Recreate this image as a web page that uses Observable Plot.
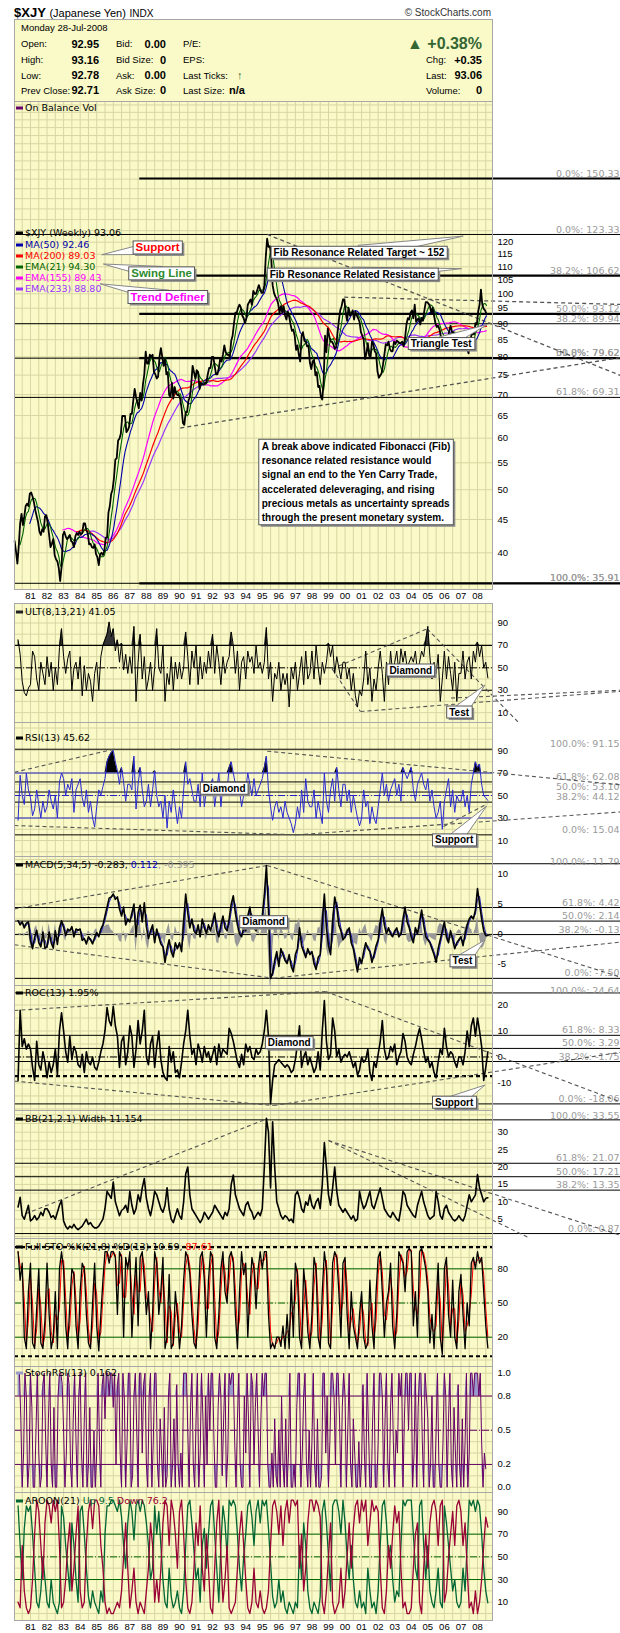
<!DOCTYPE html>
<html><head><meta charset="utf-8">
<script src="https://cdn.jsdelivr.net/npm/d3@7"></script>
<script src="https://cdn.jsdelivr.net/npm/@observablehq/plot@0.6"></script>
<style>
html,body{margin:0;padding:0;background:#fff;}
body{width:620px;height:1633px;position:relative;overflow:hidden;font-family:"Liberation Sans",Arial,sans-serif;color:#000;}
.a{position:absolute;white-space:nowrap;line-height:12px;}
.lab{font-size:9.5px;}
.val{font-size:11px;font-weight:bold;}
#box{position:absolute;left:14px;top:19px;width:477px;height:81px;background:#fafac8;border:1px solid #a8a8a8;border-bottom:none;}
</style></head><body>
<div class="a" style="left:14px;top:5px;font-size:13px;line-height:15px"><b>$XJY</b> <span style="font-size:11px">(Japanese Yen)</span> <span style="font-size:10px">INDX</span></div>
<div class="a" style="right:129px;top:7px;font-size:10px;color:#333">© StockCharts.com</div>
<div id="box"></div>
<script>
// ---------------- DATA ----------------
const quoteDate = "Monday  28-Jul-2008";
const quoteLabels = ["Open:", "High:", "Low:", "Prev Close:"];
const quoteValues = ["92.95", "93.16", "92.78", "92.71"];
const bidLabels = ["Bid:", "Bid Size:", "Ask:", "Ask Size:"];
const bidValues = ["0.00", "0", "0.00", "0"];
const chgPct = "+0.38%", chg = "+0.35", last = "93.06", volume = "0";

// $XJY monthly closes, Jan 1980 .. Jul 2008
const PRICE_START = 1980;
const priceClose = [
41.7,40.2,38.5,41.0,44.4,45.9,44.1,45.5,47.2,47.6,47.2,49.3,
49.5,48.8,47.8,46.5,45.5,44.6,43.1,42.6,43.5,43.1,45.5,45.7,
44.4,42.6,40.8,41.3,42.0,39.7,39.1,38.8,37.9,36.2,38.0,42.6,
43.1,42.4,42.0,42.2,42.6,41.7,41.5,40.8,42.4,42.9,42.6,43.1,
42.7,42.9,44.4,44.4,43.3,42.9,41.2,41.3,40.8,40.7,41.2,39.8,
39.4,38.3,39.8,40.0,39.7,40.2,42.2,42.2,46.1,47.2,49.3,50.0,
52.1,55.6,55.9,59.5,59.9,61.0,64.9,64.9,64.9,61.3,61.7,62.5,
65.4,65.4,68.5,71.4,69.4,68.0,66.7,70.4,68.5,72.5,75.2,81.5,
78.1,78.1,80.6,80.0,80.6,75.8,75.2,74.1,74.6,80.0,82.5,80.0,
77.5,79.4,75.2,75.8,69.9,69.4,73.0,69.0,71.9,70.4,69.9,69.9,
69.0,66.7,63.3,62.9,65.8,65.8,68.5,69.4,72.5,77.5,75.8,74.1,
76.3,75.8,71.4,73.0,72.5,72.5,73.0,73.0,75.2,76.9,76.9,80.0,
80.0,77.5,75.2,75.2,76.9,79.4,78.7,80.6,83.3,81.3,80.6,80.6,
80.0,84.7,86.2,90.1,93.5,93.5,95.2,96.2,95.2,92.6,91.7,90.1,
91.7,96.2,97.1,98.0,96.2,101.0,100.0,100.0,101.5,103.1,101.5,100.3,
100.3,103.1,113.6,121.5,118.0,118.3,113.6,103.1,100.3,99.0,98.2,96.6,
93.5,95.7,93.5,95.7,92.6,91.3,93.9,92.2,89.7,87.7,88.1,86.2,
82.0,83.3,80.6,78.7,86.2,87.3,84.7,84.4,83.0,83.3,78.4,76.6,
78.7,79.1,74.9,75.8,71.9,72.2,69.4,68.8,73.5,86.2,81.3,88.5,
86.2,84.4,84.4,83.7,82.3,82.6,87.0,90.9,94.3,95.7,98.0,98.0,
93.5,90.9,95.2,92.6,93.0,94.3,91.3,93.9,92.6,91.7,90.5,87.3,
86.2,85.1,79.4,81.0,84.0,80.3,80.0,84.4,83.7,81.6,81.0,76.0,
74.3,74.9,75.5,77.8,80.6,83.7,83.3,84.4,82.3,81.6,81.6,84.4,
83.7,84.7,84.4,84.0,84.0,84.4,83.0,85.5,89.7,91.7,91.3,93.5,
94.3,91.7,96.2,90.5,91.3,91.7,89.7,91.7,90.9,94.3,97.1,97.1,
96.6,95.7,93.5,95.2,92.6,90.1,88.9,89.3,88.1,85.8,83.7,84.7,
85.5,86.2,84.7,87.7,89.3,87.3,87.3,85.1,84.7,85.5,86.6,84.0,
82.6,84.4,85.1,83.7,82.3,81.0,84.0,86.2,87.0,86.6,90.1,89.7,
93.9,96.2,101.5,96.2,94.8,94.3,93.1];

// indicator readings, 8 per year from 1980.25
const OSC_START = 1980.25, OSC_STEP = 1/8;
const ult = [
75,62,38,28,25,32,
35,65,60,40,30,55,45,35, 60,42,55,30,50,35,68,85, 60,45,58,65,30,50,55,40, 60,25,52,30,45,38,20,45,
55,30,60,70,75,80,91,78, 85,65,75,55,72,48,62,45, 60,45,87,20,55,80,40,60, 30,40,55,30,50,85,50,45,
70,20,45,35,60,30,55,40, 55,40,50,82,60,35,65,50, 70,35,60,40,55,45,65,50, 80,45,70,55,35,60,45,55,
60,82,70,45,65,30,55,60, 40,65,55,60,45,70,50,55, 45,55,86,40,55,20,45,40, 55,30,45,35,45,15,50,40,
55,30,45,60,35,65,40,45, 65,40,70,50,35,55,45,55, 72,60,70,45,60,50,40,55, 55,40,50,30,45,25,15,30,
25,40,65,35,50,20,40,30, 50,65,45,20,55,35,65,45, 55,65,45,67,55,65,50,55, 60,55,65,45,55,65,60,75,
87,60,40,55,45,62,20,40, 65,40,60,45,30,55,20,45, 45,65,40,55,60,40,65,55,
73,60,70,50,55,41.05];
const rsi = [
28,68,50,42,70,55,
48,32,38,55,42,30,45,35, 40,55,45,38,50,30,62,70, 65,50,60,55,65,35,55,60, 65,48,40,55,35,45,30,22,
40,55,50,58,65,80,85,88, 90,80,72,60,75,62,45,60, 60,55,85,38,60,75,55,40, 45,60,40,55,72,50,40,45,
30,50,21,45,35,55,40,25, 40,30,55,80,60,65,55,45, 45,60,40,70,40,55,50,60, 65,40,55,70,40,60,50,55,
75,80,70,60,50,55,40,50, 55,70,60,50,65,50,55,60, 65,75,85,55,40,28,40,45, 35,40,30,45,35,30,25,17,
25,40,30,55,35,65,45,40, 40,55,30,45,35,25,70,45, 35,55,65,45,75,55,40,60, 60,45,55,35,50,40,30,23,
30,55,40,45,25,40,30,25, 40,55,70,50,60,45,55,60, 65,50,60,45,75,70,65,70, 75,55,45,60,65,70,60,55,
65,45,55,40,30,35,45,20, 45,55,65,40,55,35,50,45, 45,55,40,50,35,60,70,80,
75,78,60,50,48,45.62];
const macd = [
2.2,1.5,2.0,1.0,1.8,2.0,
-1.1,-2.5,-0.6,0.6,-1.5,-2.2,0.3,-2.4, -2.2,0.3,-1.5,-2.4,0.5,-1.8,1.0,2.2, 1.1,-0.3,0.8,0.5,1.2,-0.5,0.8,0.6, 0.8,-1.1,-0.8,-1.7,-0.5,-1.0,-1.7,-0.6,
0.2,-0.5,0.8,1.5,3.0,4.5,6.0,6.2, 6.7,5.8,6.2,4.2,3.0,4.5,1.5,2.5, 2.0,3.5,5.0,-0.5,3.5,4.8,2.0,5.2, 1.2,-0.8,0.5,1.5,-1.5,0.8,-0.5,-1.7,
-2.2,-4.8,-2.5,-1.0,-3.0,-3.9,-1.5,-2.5, -1.5,-3.0,2.0,6.7,3.5,1.0,2.5,0.5, 0.0,1.5,-0.5,2.5,1.0,0.0,1.5,0.5, 2.0,3.5,0.5,-0.5,1.5,3.0,1.0,0.5,
2.5,5.0,6.4,3.5,1.5,0.0,-0.5,1.0, 0.5,3.0,4.5,2.0,1.0,0.5,2.5,1.0, 3.0,6.5,11.5,4.0,-7.5,-6.6,-4.5,-3.0, -5.5,-2.5,-3.5,-4.5,-5.0,-3.5,-5.5,-6.4,
-3.5,-2.5,1.0,-2.0,-3.0,-4.0,-2.5,-3.5, -3.0,-5.0,-6.0,-4.0,-3.5,2.0,6.7,1.0, -2.0,-3.5,2.0,6.2,4.5,1.5,0.5,-1.0, -0.5,0.5,1.0,-1.5,-2.5,-4.5,-6.4,-4.0,
-5.0,-3.0,-1.5,-2.5,-3.0,-4.8,-3.5,-2.0, -1.0,2.0,4.2,1.5,0.0,1.0,0.0,-0.5, 0.5,1.0,-0.5,0.0,2.5,4.5,2.0,1.0, -0.5,-1.5,1.0,0.0,2.0,4.0,1.5,-0.5,
-1.0,-1.5,-2.5,-3.5,-4.8,-2.5,-1.0,0.5, 2.0,-0.5,-1.5,0.5,-1.0,-2.5,-1.5,-1.0, -0.5,-2.0,0.0,1.5,2.5,3.0,2.5,4.0,
7.6,5.0,2.5,0.5,-0.3,-0.283];
const roc = [
-9,18,4,7,3,5,
3,-4,-9,6,-3,-5,2,-2, -8,-2,-6,-3,3,-7,10,17, 10,2,-2,8,-1,4,2,-3, -4,1,-6,2,-2,-3,0,-4,
-5,-2,2,5,10,19,14,12, 19.5,12,8,-4,6,8,-3,2, 12,8,-4,3,14,5,10,18, 0,-3,5,8,-4,4,10,-1,
-6,-8,-9,4,-2,2,-6,-5, -8,-2,5,10,18,8,1,3, -3,5,2,-2,4,0,2,-2, 1,4,-3,5,0,3,2,1,
11,9,6,2,-2,-4,1,-3, 5,2,4,0,-1,3,1,2, 5,10,18,8,-18,-9,-3,-2, -1,-2,-3,-4,-3,-4,-6,-5,
-1,5,12,-4,0,2,-3,0, -3,-6,-4,2,-5,10,21.7,6, -1,1,15,10,0,3,-2,0, 1,0,2,-1,-4,-2,-7,-5,
0,-2,-1,3,-6,-9,-2,-4, 1,6,14,3,-1,0,4,2, 5,-3,0,2,9,6,0,-2, -3,1,4,8,11,7,2,-2,
0,-4,-2,-6,-8,-2,3,1, 11,4,0,2,1,-2,-4,0, 0,-3,2,10,4,12,15,8,
15,10,4,-9,-4,1.95];
const bbw = [
8.5,11.3,6,5,7,9,
4.5,5,6,4.8,5.5,7,6,8, 8,7,5.5,6,5,7,9,10.4, 4.5,3,2.2,3,2.5,3.5,2.5,2, 2.5,3,4,5,3.5,4,3,2.5,
2.5,3,4,5,8,13,12,11, 15.7,10,8,6,7.5,8,9,7, 13,9,6.5,8,12,10,14,16.7, 11,8,6,9,13,12,10,8,
7,9,14,8,5,4,6,8, 6,5,10,18,20,12,8,7, 6,5,4,5,7,6,5,6, 7,9,8,7,6,5,7,6,
8,15,17.7,12,10,8,7,6, 9,10,8,7,5,6,7,6, 8,20,34,30,14,33,20,10, 8,6,5,6,5.5,4.5,5,4,
12,13,11,8,7,10,9,12, 9,8,10,11,8,15,27,20, 12,9,14,20,13,9,8,7, 8,7,6,5,6,4.5,5,13,
10,8,9,11,13,9,8,10, 12,14,11,8,7,6,5.5,7, 6,5,4.5,8,13,12,9,8, 7,6,5.5,9,11,13,10,8,
6,5,5.5,6,13,10,6,5, 8,9,7,6,5,4.5,5,6, 5,4.5,6,9,12,10,11,12,
17.8,14,12,10,11,11.154];
const stoK = [
95,70,85,20,10,60,
85,15,10,45,80,15,10,35, 85,40,10,20,60,10,80,95, 80,30,10,50,80,75,30,10, 60,85,80,40,15,10,50,85,
30,8,40,70,95,95,85,95, 95,90,40,95,90,20,90,80, 95,20,60,90,30,90,95,70, 40,60,10,40,95,85,40,60,
90,10,20,75,10,15,60,40, 10,30,70,95,90,75,40,15, 10,50,90,95,70,20,70,95, 90,20,10,40,80,95,60,50,
90,95,85,40,10,60,95,75, 85,20,60,90,80,45,80,95, 80,95,95,40,10,15,10,20, 20,12,30,10,40,10,70,20,
85,75,20,10,80,60,25,10, 40,90,80,20,10,60,95,80, 15,10,85,95,90,60,20,85, 90,40,10,60,30,20,10,40,
60,20,10,15,70,30,10,60, 90,95,60,20,50,60,85,30, 10,40,95,90,85,60,95,98, 95,30,60,20,95,98,90,80,
60,15,40,10,50,85,20,5, 80,90,40,20,70,20,10,60, 75,40,10,50,30,85,90,80,
95,85,90,60,30,10.59];
const aroonUp = [
95,60,30,75,95,90,
95,70,40,10,5,20,50,30, 10,5,30,10,5,0,10,95, 85,60,40,20,80,60,30,10, 90,95,70,40,15,5,20,10,
5,0,20,10,70,95,95,100, 100,95,90,100,85,60,40,80, 100,90,65,95,100,90,100,95, 80,60,30,40,95,70,90,60,
30,10,5,40,15,5,10,20, 5,0,20,60,95,100,80,55, 30,40,10,60,75,40,70,95, 100,70,40,10,60,95,80,50,
100,95,100,95,70,40,20,50, 70,95,100,85,60,90,100,80, 100,95,100,75,45,15,5,10, 30,10,20,5,0,10,5,0,
10,5,60,30,80,60,20,5, 0,10,5,0,15,90,100,80, 50,20,95,100,100,90,70,100, 80,50,30,60,30,10,5,20,
5,10,0,40,20,5,10,0, 20,60,95,100,80,50,60,30, 10,20,15,60,100,95,100,100, 100,70,40,30,95,100,60,30,
60,20,10,5,20,40,10,5, 95,80,60,40,20,30,10,5, 10,40,20,60,100,95,100,90,
100,95,70,40,20,9.5];
const aroonDown = [
10,5,60,20,5,0,
5,30,70,100,90,60,30,80, 100,95,80,100,90,100,60,5, 10,30,60,80,20,40,70,95, 20,5,10,60,90,100,75,100,
100,95,60,40,10,0,5,0, 0,5,10,5,20,50,80,40, 5,20,40,10,0,10,5,0, 20,40,80,60,10,30,10,40,
80,100,95,60,100,90,70,40, 90,100,70,30,5,0,10,40, 80,60,95,40,20,70,40,5, 0,40,80,100,50,10,30,60,
5,0,5,10,40,70,90,60, 30,5,0,10,40,10,5,20, 5,0,5,20,60,95,100,90, 70,95,60,90,100,80,100,100,
95,100,40,70,20,40,80,100, 100,90,100,95,85,10,0,20, 50,80,10,0,5,10,40,5, 20,50,80,40,75,95,100,80,
100,90,100,60,80,100,90,95, 90,40,5,0,20,60,40,70, 95,80,90,40,5,10,0,0, 5,40,70,80,10,0,40,70,
40,80,95,100,90,60,95,100, 10,20,50,70,90,60,95,100, 90,60,80,40,5,10,0,20,
0,10,30,60,85,76.2];
// StochRSI, 12 per year from 1980.25
const SRSI_START = 1980.25, SRSI_STEP = 1/12;
const stochRsi = [
1,1,.6,0,.3,1,.8,0,.2,
1,.7,0,0,.5,1,.3,0,.1,.9,1,.4, 0,.6,1,.2,0,.7,0,0,.8,1,1,.9, .5,0,.3,1,.9,.2,0,.6,1,.4,0,.8, 1,.3,0,.6,1,0,.2,.7,0,0,.5,0,
.3,1,.4,0,.9,1,.6,1,1,.8,1,1, .7,1,.2,.9,1,.3,0,1,.8,0,.4,1, 1,0,.1,.8,1,.5,0,1,1,.3,.9,1, .2,0,.8,1,0,.4,1,1,.2,0,.6,.3,
0,.7,0,.1,.8,1,0,.2,.6,0,.9,.2, 0,.3,0,1,1,1,.5,0,.7,1,.2,0, .6,1,0,.3,1,.6,0,.8,.2,1,.5,1, 1,.4,0,0,.7,1,.8,.1,.6,1,0,.3,
1,.9,1,1,.4,0,.6,1,.2,0,0,.8, .3,1,.6,0,1,.9,.2,.7,1,.5,0,.6, 1,.8,1,1,.2,0,0,.3,0,.6,.1,0, .5,0,.8,.2,0,.6,0,.3,1,0,0,.2,
0,.7,1,1,0,.3,.8,1,.2,0,.5,0, .4,1,.2,0,.6,0,0,.1,1,1,.3,.8, 0,.4,1,1,.8,.2,1,1,.6,0,.7,1, .8,0,.5,1,.2,0,.6,.3,0,0,.4,0,
.2,.9,.3,0,1,.5,0,0,.6,1,0,0, .4,1,1,.8,0,.6,1,.2,0,.7,1,.4, 0,.5,.3,1,.8,1,0,.6,1,1,.5,1, 1,0,.3,1,0,.7,1,1,.4,0,1,.8,
.6,0,.2,.8,0,0,.5,1,.2,0,0,.4, 1,.8,0,.6,1,.2,0,.7,.3,0,.9,.2, 0,.6,0,.4,1,0,.3,1,1,.8,1,1,
1,.8,1,.4,0,.3,.162];

// Fibonacci / reference levels
const fibThin = [{v:123.33,t:"0.0%: 123.33"},{v:89.94,t:"38.2%: 89.94"},{v:79.62,t:"50.0%: 79.62"},{v:69.31,t:"61.8%: 69.31"},{v:35.91,t:"100.0%: 35.91"}];
const fibThick = [{v:150.33,t:"0.0%: 150.33"},{v:106.62,t:"38.2%: 106.62"},{v:93.12,t:"50.0%: 93.12"},{v:79.62,t:"61.8%: 79.62"},{v:35.91,t:"100.0%: 35.91"}];
const rsiFib = [{v:91.15,t:"100.0%: 91.15"},{v:62.08,t:"61.8%: 62.08"},{v:53.10,t:"50.0%: 53.10"},{v:44.12,t:"38.2%: 44.12"},{v:15.04,t:"0.0%: 15.04"}];
const macdFib = [{v:11.79,t:"100.0%: 11.79"},{v:4.42,t:"61.8%: 4.42"},{v:2.14,t:"50.0%: 2.14"},{v:-0.13,t:"38.2%: -0.13"},{v:-7.50,t:"0.0%: -7.50"}];
const rocFib = [{v:24.64,t:"100.0%: 24.64"},{v:8.33,t:"61.8%: 8.33"},{v:3.29,t:"50.0%: 3.29"},{v:-1.75,t:"38.2%: -1.75"},{v:-18.06,t:"0.0%: -18.06"}];
const bbFib = [{v:33.55,t:"100.0%: 33.55"},{v:21.07,t:"61.8%: 21.07"},{v:17.21,t:"50.0%: 17.21"},{v:13.35,t:"38.2%: 13.35"},{v:0.87,t:"0.0%: 0.87"}];

// trend lines [year1, value1, year2, value2]
const priceTrends = [[1995.3,123.33,2016.64,74.9],[1999.95,98.8,2016.64,96.3],[1990.05,62.2,2016.64,79.8]];
const ultTrends = [[1999.22,49.1,2004.96,84.8],[2004.96,84.8,2016.64,-92],[1999.22,49.1,2000.93,11],[2000.93,11,2016.64,29],[2006.4,23,2016.64,30]];
const rsiTrends = [[1980.03,70.7,1986.13,91.5],[1989.46,91.15,1993.99,91.15],[1995.3,89.4,2016.64,59.5],[1980.03,23.3,1997.11,15.1],[1997.11,15.1,2016.64,35.4],[2005.95,22.4,2008.59,42.6]];
const macdTrends = [[1980.03,4.2,1995.3,11.5],[1995.3,11.5,2016.64,-7.3],[1980.03,-1.85,1995.68,-7.47],[1995.68,-7.47,2016.64,-1.4]];
const rocTrends = [[1980.03,17.9,1998.82,25.2],[1998.82,25.2,2016.64,-17.3],[1980.03,-9.3,1995.68,-18.7],[1995.68,-18.7,2016.64,1.8]];
const bbTrends = [[1980.7,6.55,1995.3,33.9],[1999.0,27.6,2016.64,0.35],[1999.0,27.6,2016.64,-13.1]];

const noteLines = ["A break above indicated Fibonacci (Fib)","resonance related resistance would","signal an end to the Yen Carry Trade,","accelerated deleveraging, and rising","precious metals as uncertainty spreads","through the present monetary system."];

// ---------------- RENDER ----------------
const BG = "#fafac8", GRID = "#d8d6a2", FRAME = "#a8a8a8";
const FONT = "'Liberation Sans', Arial, sans-serif", LFONT = "'DejaVu Sans', Verdana, sans-serif";
const X0 = 1980.034, X1 = 2008.906, XR = 2016.64;
const halfYears = d3.range(1980.5, 2009, 0.5);
const yearTicks = d3.range(1981, 2009);
const S = (arr, start, step) => arr.map((v, i) => ({date: start + i * step, v}));
const price = S(priceClose, PRICE_START + 0.5/12, 1/12);
const O = a => S(a, OSC_START, OSC_STEP);
const DASHDOT = "7,2,1,2";

// header
function put(txt, left, top, cls, extra) {
  const d = document.createElement("div"); d.className = "a " + cls; d.textContent = txt;
  d.style.left = left + "px"; d.style.top = top + "px"; if (extra) Object.assign(d.style, extra);
  document.body.appendChild(d); return d;
}
function putR(txt, right, top, cls, extra) {
  const d = put(txt, 0, top, cls, extra); d.style.left = ""; d.style.right = (620 - right) + "px"; return d;
}
const rows = [38, 54, 69.5, 84.5];
put(quoteDate, 21, 22, "lab");
quoteLabels.forEach((l, i) => { put(l, 21, rows[i], "lab"); putR(quoteValues[i], 99, rows[i] - 0.5, "val"); });
bidLabels.forEach((l, i) => { put(l, 116, rows[i], "lab"); putR(bidValues[i], 166, rows[i] - 0.5, "val"); });
put("P/E:", 183, rows[0], "lab"); put("EPS:", 183, rows[1], "lab");
put("Last Ticks:", 183, rows[2], "lab"); put("↑", 237, rows[2] - 1, "val", {color: "#336633"});
put("Last Size:", 183, rows[3], "lab"); put("n/a", 229, rows[3] - 0.5, "val");
putR("▲ " + chgPct, 482, rows[0] - 3, "val", {fontSize: "16px", lineHeight: "17px", color: "#336633"});
put("Chg:", 426, rows[1], "lab"); putR(chg, 482, rows[1] - 0.5, "val");
put("Last:", 426, rows[2], "lab"); putR(last, 482, rows[2] - 0.5, "val");
put("Volume:", 426, rows[3], "lab"); putR(volume, 482, rows[3] - 0.5, "val");

function scaleFn(svg, name) {
  const s = svg.scale(name);
  if (s && typeof s.apply === "function") return v => s.apply(v);
  return (s.type === "log" ? d3.scaleLog() : d3.scaleLinear()).domain(s.domain).range(s.range);
}
function fibMarks(list, from, to, w, topDy = -5) {
  const txt = {x: XR, y: "v", text: "t", textAnchor: "end", dx: -1, fill: "#9a9a9a", fontSize: 9.5, fontFamily: LFONT};
  return [
    Plot.ruleY(list, {y: "v", x1: from, x2: to, stroke: "#000", strokeWidth: w}),
    Plot.text(list.slice(0, 1), {...txt, dy: topDy}),
    Plot.text(list.slice(1), {...txt, dy: -5})
  ];
}
function trendMarks(list, w = 1.1) {
  return Plot.link(list, {x1: d => d[0], y1: d => d[1], x2: d => d[2], y2: d => d[3], stroke: "#555", strokeWidth: w, strokeDasharray: "4,3"});
}
function panel(o) {
  const mb = o.mb || 0;
  const svg = Plot.plot({
    width: 620, height: o.h + mb,
    marginLeft: 14, marginRight: 128, marginTop: 0, marginBottom: mb,
    style: {background: "transparent", overflow: "hidden", fontFamily: FONT, fontSize: "9.5px", color: "#000"},
    x: {domain: [X0, X1], axis: mb ? "bottom" : null, ticks: yearTicks, tickFormat: d => String(d).slice(-2), tickSize: 0, tickPadding: 3, label: null},
    y: {type: o.type || "linear", domain: o.domain, axis: "right", ticks: o.ticks, tickFormat: o.fmt || (d => String(d)), tickSize: 0, tickPadding: 5, label: null},
    marks: [
      Plot.frame({fill: BG, stroke: "none"}),
      Plot.ruleX(halfYears, {stroke: GRID}),
      Plot.ruleY(o.grid, {stroke: GRID}),
      ...o.marks,
      Plot.frame({stroke: FRAME})
    ]
  });
  svg.style.position = "absolute"; svg.style.left = "0px"; svg.style.top = o.top + "px";
  document.body.appendChild(svg);
  return svg;
}
function legend(svg, y, parts, icon) {
  const g = d3.select(svg).append("g").attr("text-anchor", "start");
  if (icon) g.append("rect").attr("x", 16).attr("y", y - 1.5).attr("width", 7).attr("height", 3).attr("fill", icon);
  const t = g.append("text").attr("x", 25).attr("y", y).attr("dy", "0.35em").attr("text-anchor", "start")
    .attr("font-family", LFONT).attr("font-size", 9.5);
  parts.forEach(([s, c]) => t.append("tspan").attr("fill", c).text(s));
}
function callouts(svg, list) {
  const X = scaleFn(svg, "x"), Y = scaleFn(svg, "y");
  const root = d3.select(svg).append("g").attr("font-family", FONT).attr("font-weight", "bold");
  for (const c of list) {
    const g = root.append("g");
    const x0 = X(c.x), y0 = Y(c.y);
    const lines = c.lines || [c.text];
    const t = g.append("text").attr("font-size", c.size || 10).attr("fill", c.color || "#000").attr("text-anchor", c.lines ? "start" : "middle");
    lines.forEach((s, i) => t.append("tspan").attr("x", x0).attr("y", y0 + i * (c.lh || 0)).attr("dy", "0.35em").text(s));
    const b = t.node().getBBox();
    const px = c.lines ? 3 : 2.5, py = c.lines ? 2 : 0.5;
    const r = {x: b.x - px, y: b.y - py, w: b.width + 2 * px, h: b.height + 2 * py};
    g.insert("rect", "text").attr("x", r.x + 2).attr("y", r.y + 2).attr("width", r.w).attr("height", r.h).attr("fill", "#8c8c8c");
    if (c.tx !== undefined) {
      const tx = X(c.tx), ty = Y(c.ty), cx = r.x + r.w / 2, cy = r.y + r.h / 2;
      const dx = tx - cx, dy = ty - cy, L = Math.hypot(dx, dy), k = 7 / L;
      g.insert("polygon", "text").attr("points", `${cx - dy * k},${cy + dx * k} ${tx},${ty} ${cx + dy * k},${cy - dx * k}`).attr("fill", "#fff").attr("stroke", "#888");
    }
    g.insert("rect", "text").attr("x", r.x).attr("y", r.y).attr("width", r.w).attr("height", r.h).attr("fill", "#fff").attr("stroke", "#555");
  }
}

// ---- price panel ----
const pr = panel({
  top: 101, h: 488, mb: 14, type: "log", domain: [35.13, 197.4],
  ticks: d3.range(40, 121, 5), grid: d3.range(40, 200, 5),
  marks: [
    ...fibMarks(fibThin, X0, XR, 1),
    ...fibMarks(fibThick, 1987.6, XR, 2.2),
    trendMarks(priceTrends, 1.3),
    Plot.line(price, Plot.windowY({k: 54, anchor: "end", strict: true}, {x: "date", y: "v", stroke: "#9933ff", strokeWidth: 1.2})),
    Plot.line(price, Plot.windowY({k: 36, anchor: "end", strict: true}, {x: "date", y: "v", stroke: "#ff00ff", strokeWidth: 1.2})),
    Plot.line(price, Plot.windowY({k: 46, anchor: "end", strict: true}, {x: "date", y: "v", stroke: "#ff0000", strokeWidth: 1.2})),
    Plot.line(price, Plot.windowY({k: 12, anchor: "end", strict: true}, {x: "date", y: "v", stroke: "#0000aa", strokeWidth: 1.1})),
    Plot.line(price, Plot.windowY({k: 5, anchor: "end", strict: true}, {x: "date", y: "v", stroke: "#006600", strokeWidth: 1.1})),
    Plot.line(price, {x: "date", y: "v", stroke: "#000", strokeWidth: 1.8})
  ]
});
legend(pr, 7, [["On Balance Vol", "#000"]], "#660066");
legend(pr, 132, [["$XJY (Weekly) 93.06", "#000"]], "#000");
legend(pr, 144, [["MA(50) 92.46", "#0000aa"]], "#0000aa");
legend(pr, 155, [["MA(200) 89.03", "#ff0000"]], "#ff0000");
legend(pr, 166, [["EMA(21) 94.30", "#006600"]], "#006600");
legend(pr, 177, [["EMA(155) 89.43", "#ff00ff"]], "#ff00ff");
legend(pr, 188, [["EMA(233) 88.80", "#9933ff"]], "#9933ff");
callouts(pr, [
  {text: "Support", color: "#ff0000", size: 11.5, x: 1988.71, y: 117.6, tx: 1985.33, ty: 114.6},
  {text: "Swing Line", color: "#2e8b2e", size: 11.5, x: 1988.95, y: 107.3, tx: 1985.43, ty: 110.9},
  {text: "Trend Definer", color: "#ff00ff", size: 11.5, x: 1989.31, y: 98.7, tx: 1985.23, ty: 103.4},
  {text: "Fib Resonance Related Target ~ 152", size: 10, x: 2000.87, y: 115.6, tx: 2007.17, ty: 122.4},
  {text: "Fib Resonance Related Resistance", size: 10, x: 2000.48, y: 107.0, tx: 2007.07, ty: 109.1},
  {text: "Triangle Test", size: 10, x: 2005.84, y: 83.7, tx: 2008.62, ty: 89.5},
  {lines: noteLines, size: 10, lh: 14.1, x: 1995.0, y: 58.1}
]);

// ---- ULT ----
const ultP = panel({
  top: 603, h: 119, domain: [1.2, 107.4], ticks: [10, 30, 50, 70, 90], grid: d3.range(0, 101, 10),
  marks: [
    Plot.areaY(O(ult), {x: "date", y1: 70, y2: d => Math.max(70, d.v), fill: "#333"}),
    Plot.ruleY([70, 30], {x1: X0, x2: X1, stroke: "#000", strokeWidth: 1.2}),
    Plot.ruleY([50], {x1: X0, x2: X1, stroke: "#000", strokeDasharray: DASHDOT}),
    trendMarks(ultTrends),
    Plot.line(O(ult), {x: "date", y: "v", stroke: "#000", strokeWidth: 1})
  ]
});
legend(ultP, 9, [["ULT(8,13,21) 41.05", "#000"]], "#222");
callouts(ultP, [{text: "Diamond", x: 2004.0, y: 47.6}, {text: "Test", x: 2006.92, y: 10.1, tx: 2008.48, ty: 34.2}]);

// ---- RSI ----
const rsiP = panel({
  top: 722, h: 134, domain: [-4.2, 114.9], ticks: [10, 30, 50, 70, 90], grid: d3.range(0, 111, 10),
  marks: [
    Plot.areaY(O(rsi), {x: "date", y1: 70, y2: d => Math.max(70, d.v), fill: "#000"}),
    ...fibMarks(rsiFib, X0, X1, 1),
    Plot.ruleY([70, 30], {x1: X0, x2: X1, stroke: "#2020c0", strokeWidth: 1}),
    Plot.ruleY([50], {x1: X0, x2: X1, stroke: "#2020c0", strokeDasharray: DASHDOT}),
    trendMarks(rsiTrends),
    Plot.line(O(rsi), {x: "date", y: "v", stroke: "#2a2ad0", strokeWidth: 1})
  ]
});
legend(rsiP, 16, [["RSI(13) 45.62", "#000"]], "#000");
callouts(rsiP, [{text: "Diamond", x: 1992.73, y: 56.0}, {text: "Support", x: 2006.62, y: 10.1, tx: 2008.58, ty: 40.2}]);

// ---- MACD ----
const macdP = panel({
  top: 856, h: 129, domain: [-8.7, 13.01], ticks: [-5, 0, 5, 10], grid: d3.range(-7.5, 13, 2.5),
  marks: [
    ...fibMarks(macdFib, X0, XR, 1, -1.8),
    trendMarks(macdTrends),
    Plot.areaY(O(macd), Plot.windowY({k: 3, anchor: "end", reduce: v => v[v.length - 1] - d3.mean(v)}, {x: "date", y: "v", fill: "#999"})),
    Plot.line(O(macd), Plot.windowY({k: 2, anchor: "end"}, {x: "date", y: "v", stroke: "#2020c0", strokeWidth: 1})),
    Plot.line(O(macd), {x: "date", y: "v", stroke: "#000", strokeWidth: 1.6})
  ]
});
legend(macdP, 9, [["MACD(5,34,5) -0.283", "#000"], [", ", "#000"], ["0.112", "#0000cc"], [", -0.395", "#999"]], "#000");
callouts(macdP, [{text: "Diamond", x: 1995.11, y: 1.95}, {text: "Test", x: 2007.12, y: -4.63, tx: 2008.48, ty: -1.13}]);

// ---- ROC ----
const rocP = panel({
  top: 985, h: 125, domain: [-20.6, 27.5], ticks: [-10, 0, 10, 20], grid: d3.range(-20, 28, 5),
  marks: [
    ...fibMarks(rocFib, X0, XR, 1, -1.8),
    Plot.ruleY([0], {x1: X0, x2: X1, stroke: "#000", strokeDasharray: DASHDOT}),
    Plot.ruleY([-7.4], {x1: X0, x2: X1, stroke: "#000", strokeWidth: 2.2, strokeDasharray: "4,3"}),
    trendMarks(rocTrends),
    Plot.line(O(roc), {x: "date", y: "v", stroke: "#000", strokeWidth: 1.6})
  ]
});
legend(rocP, 8, [["ROC(13) 1.95%", "#000"]], "#000");
callouts(rocP, [{text: "Diamond", x: 1996.66, y: 5.3}, {text: "Support", x: 2006.62, y: -17.6, tx: 2008.48, ty: -11.0}]);

// ---- BB width ----
const bbP = panel({
  top: 1110, h: 128, domain: [-0.55, 36.24], ticks: [5, 10, 15, 20, 25, 30], grid: d3.range(0, 36, 2.5),
  marks: [
    ...fibMarks(bbFib, X0, XR, 1, -3.5),
    trendMarks(bbTrends),
    Plot.line(O(bbw), {x: "date", y: "v", stroke: "#000", strokeWidth: 1.6})
  ]
});
legend(bbP, 9, [["BB(21,2.1) Width 11.154", "#000"]], "#000");

// ---- Full STO ----
const stoP = panel({
  top: 1238, h: 128, domain: [-5.7, 106.6], ticks: [20, 50, 80], grid: d3.range(0, 101, 10),
  marks: [
    Plot.ruleY([99, 3.3], {x1: X0, x2: X1, stroke: "#000", strokeWidth: 2.2, strokeDasharray: "4,3"}),
    Plot.ruleY([80, 20], {x1: X0, x2: X1, stroke: "#006600", strokeWidth: 1}),
    Plot.ruleY([50], {x1: X0, x2: X1, stroke: "#006600", strokeDasharray: DASHDOT}),
    Plot.line(O(stoK), Plot.windowY({k: 2, anchor: "end"}, {x: "date", y: "v", stroke: "#ff0000", strokeWidth: 1})),
    Plot.line(O(stoK), {x: "date", y: "v", stroke: "#000", strokeWidth: 1.3})
  ]
});
legend(stoP, 9, [["Full STO %K(21,8) %D(13) 10.59, ", "#000"], ["87.61", "#ff0000"]], "#000");

// ---- StochRSI ----
const sr = S(stochRsi, SRSI_START, SRSI_STEP);
const srP = panel({
  top: 1366, h: 126, domain: [-0.046, 1.059], ticks: [0, 0.2, 0.5, 0.8, 1.0], fmt: d => d.toFixed(1), grid: d3.range(0, 1.01, 0.1),
  marks: [
    Plot.areaY(sr, {x: "date", y1: 0.8, y2: d => Math.max(0.8, d.v), fill: "#9999cc"}),
    Plot.areaY(sr, {x: "date", y1: 0.2, y2: d => Math.min(0.2, d.v), fill: "#9999cc"}),
    Plot.ruleY([0.8, 0.2], {x1: X0, x2: X1, stroke: "#660066", strokeWidth: 1}),
    Plot.ruleY([0.5], {x1: X0, x2: X1, stroke: "#660066", strokeDasharray: DASHDOT}),
    Plot.line(sr, {x: "date", y: "v", stroke: "#660066", strokeWidth: 1})
  ]
});
legend(srP, 7, [["StochRSI(13) 0.162", "#000"]], "#9999cc");

// ---- AROON ----
const arP = panel({
  top: 1492, h: 128, mb: 13, domain: [-6.14, 106.75], ticks: [10, 30, 50, 70, 90], grid: d3.range(0, 101, 10),
  marks: [
    Plot.ruleY([70, 30], {x1: X0, x2: X1, stroke: "#006600", strokeWidth: 1}),
    Plot.ruleY([50], {x1: X0, x2: X1, stroke: "#006600", strokeDasharray: DASHDOT}),
    Plot.line(O(aroonUp), {x: "date", y: "v", stroke: "#006633", strokeWidth: 1.3}),
    Plot.line(O(aroonDown), {x: "date", y: "v", stroke: "#990033", strokeWidth: 1.3})
  ]
});
legend(arP, 9, [["AROON(21) ", "#000"], ["Up 9.5 ", "#006633"], ["Down 76.2", "#990033"]], "#006633");
</script>
</body></html>
